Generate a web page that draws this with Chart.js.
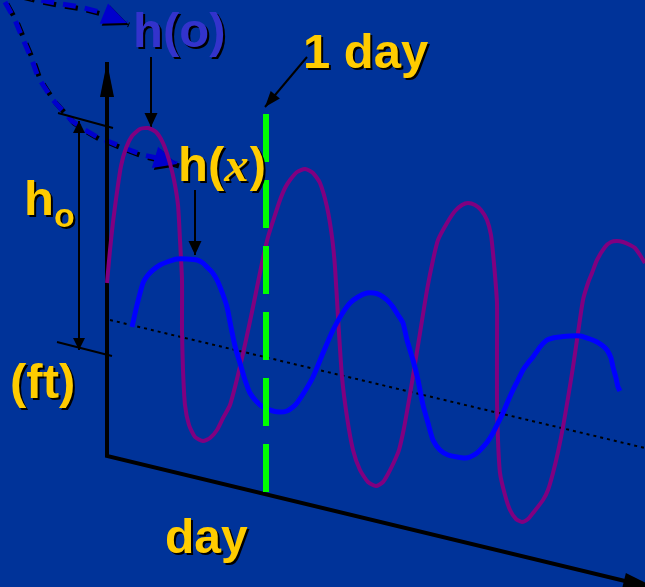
<!DOCTYPE html>
<html>
<head>
<meta charset="utf-8">
<script src="https://cdn.jsdelivr.net/npm/chart.js@4.4.1/dist/chart.umd.min.js"></script>
<style>
  html, body { margin: 0; padding: 0; background: #003399; }
  #tide { display: block; background: #003399; }
</style>
</head>
<body>
<canvas id="tide" width="645" height="587"></canvas>
<script>
// tide at the ocean, h(o)
const oceanX = [107,110,113,117,121,126,132,140,148,156,163,169,174,178,180,182,182,183,185,189,195,203,210,217,223,230,238,246,253,262,268,275,280,285,290,297,305,313,320,327,332,335,338,342,347,353,360,368,376,383,388,394,399,404,409,414,420,427,433,438,447,455,462,468,475,481,487,491,493,495,497,497,497,498,500,505,510,516,522,528,533,543,548,553,558,563,568,573,578,583,588,592,597,605,611,617,623,630,635,640,645];
const oceanY = [283,250,222,192,166,148,136,129,128,132,143,160,180,205,240,280,330,370,405,425,437,441,438,430,418,405,375,340,307,263,237,215,200,188,180,172,169,173,183,207,237,267,317,377,417,450,470,482,486,482,474,462,450,428,400,370,333,290,260,240,223,211,205,203,205,210,220,235,253,275,303,350,400,440,473,495,510,519,522,519,513,500,490,473,452,427,398,367,333,300,283,273,260,247,242,241,242,245,248,255,263];

// tide up the channel, h(x)
const channelX = [132,137,143,148,153,160,167,177,187,197,203,207,212,217,222,227,230,233,236,240,245,250,256,263,273,280,287,293,297,305,313,323,333,342,350,358,367,374,380,387,393,398,403,407,413,418,423,428,433,440,448,457,465,470,477,483,488,493,498,503,508,513,518,523,528,533,540,547,553,560,570,580,590,597,603,607,611,613,616,618,620];
const channelY = [327,305,283,275,270,265,262,259,259,260,263,267,272,280,292,307,322,337,350,363,380,393,401,407,411,412,411,407,403,391,377,353,330,314,303,297,293,293,295,300,307,315,323,340,360,380,405,423,440,450,455,457,458,457,453,447,441,433,423,413,401,390,380,370,363,357,347,340,338,337,336,336,339,342,346,350,358,367,378,387,391];

// mean level and the one-day marker
const meanX = [110, 645];
const meanY = [320, 448];
const dayMarkX = [266, 266];
const dayMarkY = [114, 494];

// axes: h (ft) up, day along the bottom
const axisX = [107, 107, 658];
const axisY = [62, 456, 589];

// pointers from the labels
const hoPtrX = [151, 151],  hoPtrY = [57, 127];
const hxPtrX = [195, 195],  hxPtrY = [190, 255];
const dayPtrX = [307, 265], dayPtrY = [57, 107];
const rangeX = [79, 79],    rangeY = [121, 350];
const tickTopX = [58, 113], tickTopY = [113, 128];
const tickBotX = [57, 112], tickBotY = [342, 356];

// dashed curves feeding h(o) and h(x)
const feedOX = [20, 40, 55, 80, 100, 127];
const feedOY = [-5, 0, 3, 7, 12, 23];
const feedXX = [5, 15, 22, 32, 38, 45, 53, 62, 72, 85, 97, 110, 127, 143, 157, 177];
const feedXY = [2, 20, 37, 60, 77, 88, 100, 110, 121, 130, 137, 142, 149, 155, 158, 164];

function pts(xs, ys) {
  return xs.map((x, i) => ({ x: x, y: ys[i] }));
}

function line(xs, ys, color, width, extra) {
  return Object.assign({
    data: pts(xs, ys),
    showLine: true,
    borderColor: color,
    backgroundColor: color,
    borderWidth: width,
    pointRadius: 0,
    tension: 0,
    clip: false,
  }, extra || {});
}

// filled triangle at the end (or start) of a line, from its pixel points
function head(ctx, tip, from, len, half, color) {
  const dx = tip.x - from.x, dy = tip.y - from.y;
  const d = Math.hypot(dx, dy) || 1;
  const ux = dx / d, uy = dy / d;
  const bx = tip.x - ux * len, by = tip.y - uy * len;
  ctx.beginPath();
  ctx.moveTo(tip.x, tip.y);
  ctx.lineTo(bx - uy * half, by + ux * half);
  ctx.lineTo(bx + uy * half, by - ux * half);
  ctx.closePath();
  ctx.fillStyle = color;
  ctx.fill();
}

const arrowPlugin = {
  id: "arrows",
  beforeDatasetDraw(chart, args) {
    const ds = chart.data.datasets[args.index];
    if (ds.shadow) {
      const ctx = chart.ctx;
      ctx.save();
      ctx.shadowColor = "#000000";
      ctx.shadowOffsetX = 2;
      ctx.shadowOffsetY = 2;
      ctx.shadowBlur = 0;
    }
  },
  afterDatasetDraw(chart, args) {
    const ds = chart.data.datasets[args.index];
    const ctx = chart.ctx;
    const p = args.meta.data;
    if (ds.arrowEnd) {
      const n = p.length;
      head(ctx, p[n - 1], p[n - 2], ds.arrowEnd[0], ds.arrowEnd[1], ds.borderColor);
    }
    if (ds.arrowStart) {
      head(ctx, p[0], p[1], ds.arrowStart[0], ds.arrowStart[1], ds.borderColor);
    }
    if (ds.shadow) ctx.restore();
  },
};

const labelPlugin = {
  id: "labels",
  afterDraw(chart) {
    const ctx = chart.ctx;
    const sans = (s) => "bold " + s + "px 'Liberation Sans', Arial, sans-serif";
    ctx.save();
    ctx.textBaseline = "alphabetic";
    ctx.textAlign = "left";
    ctx.shadowColor = "#000000";
    ctx.shadowOffsetX = 2;
    ctx.shadowOffsetY = 2;
    ctx.shadowBlur = 0;

    const put = (text, x, y, font, color) => {
      ctx.font = font;
      ctx.fillStyle = color;
      ctx.fillText(text, x, y);
      return x + ctx.measureText(text).width;
    };

    put("h(o)", 133, 47, sans(49), "#3333CC");
    put("1 day", 303, 68, sans(49), "#FFCC00");

    let x = put("h(", 178, 181, sans(49), "#FFCC00");
    x = put("x", x, 181, "italic bold 49px 'Liberation Serif', 'Times New Roman', serif", "#FFCC00");
    put(")", x + 1, 181, sans(49), "#FFCC00");

    put("h", 24, 215, sans(49), "#FFCC00");
    put("o", 54, 227, sans(34), "#FFCC00");
    put("(ft)", 10, 398, sans(49), "#FFCC00");
    put("day", 165, 553, sans(48), "#FFCC00");
    ctx.restore();
  },
};

const datasets = [
  line(dayMarkX, dayMarkY, "#00FF00", 6, { borderDash: [48, 18] }),
  line(channelX, channelY, "#0000FF", 5, { tension: 0.2 }),
  line(oceanX, oceanY, "#800080", 4, { tension: 0.2 }),
  line(meanX, meanY, "#000000", 2, { borderDash: [3, 4] }),
  line(axisX, axisY, "#000000", 4, { arrowStart: [35, 7], arrowEnd: [35, 8] }),
  line(hoPtrX, hoPtrY, "#000000", 2, { arrowEnd: [14, 6.5] }),
  line(hxPtrX, hxPtrY, "#000000", 2, { arrowEnd: [14, 6.5] }),
  line(dayPtrX, dayPtrY, "#000000", 2, { arrowEnd: [16, 6] }),
  line(rangeX, rangeY, "#000000", 2, { arrowStart: [12, 6], arrowEnd: [12, 6] }),
  line(tickTopX, tickTopY, "#000000", 2),
  line(tickBotX, tickBotY, "#000000", 2),
  line(feedOX, feedOY, "#0000CC", 5, { borderDash: [13, 9], shadow: true, arrowEnd: [25, 11] }),
  line(feedXX, feedXY, "#0000CC", 5, { borderDash: [13, 9], shadow: true, arrowEnd: [23, 11] }),
];

new Chart(document.getElementById("tide"), {
  type: "scatter",
  data: { datasets: datasets },
  options: {
    responsive: false,
    animation: false,
    devicePixelRatio: 1,
    layout: { padding: 0 },
    scales: {
      x: { type: "linear", min: 0, max: 645, display: false },
      y: { type: "linear", min: 0, max: 587, reverse: true, display: false },
    },
    plugins: {
      legend: { display: false },
      tooltip: { enabled: false },
    },
    events: [],
  },
  plugins: [arrowPlugin, labelPlugin],
});
</script>
</body>
</html>
